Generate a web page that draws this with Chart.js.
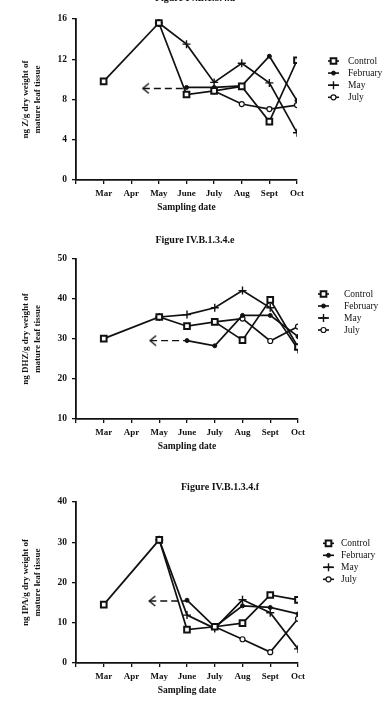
<!DOCTYPE html>
<html>
<head>
<meta charset="utf-8">
<script src="https://cdn.jsdelivr.net/npm/chart.js@4/dist/chart.umd.min.js"></script>
<style>
  html, body { margin: 0; padding: 0; background: #fff; width: 388px; height: 708px; overflow: hidden; }
  canvas { position: absolute; left: 0; }
</style>
</head>
<body>
<canvas id="chartD" width="388" height="240" style="top:-20px"></canvas>
<canvas id="chartE" width="388" height="240" style="top:220px"></canvas>
<canvas id="chartF" width="388" height="240" style="top:463px"></canvas>
<script>
// Sampling months (first slot is the empty start of the axis)
const months = ['', 'Mar', 'Apr', 'May', 'June', 'July', 'Aug', 'Sept', 'Oct'];

// Figure d - ng Z/g
const controlZ = [null, 9.8, null, 15.6, 8.5, 8.85, 9.3, 5.8, 11.9];
const febZ     = [null, null, null, null, 9.2, 9.2, 9.35, 12.3, 7.9];
const mayZ     = [null, null, null, 15.6, 13.5, 9.7, 11.6, 9.65, 4.7];
const julyZ    = [null, null, null, null, null, 8.85, 7.55, 7.05, 7.45];
const arrowZ   = [2.42, 4];   // dashed arrow, x from tip to June
const arrowZLevel = 9.1;
const ticksZ   = [0, 4, 8, 12, 16];

// Figure e - ng DHZ/g
const controlE = [null, 30.1, null, 35.5, 33.2, 34.3, 29.7, 39.8, 28.0];
const febE     = [null, null, null, null, 29.6, 28.3, 35.9, 35.9, 30.6];
const mayE     = [null, null, null, 35.5, 36.1, 37.8, 42.1, 37.8, 27.4];
const julyE    = [null, null, null, null, null, 34.3, 35.1, 29.5, 33.1];
const arrowE   = [2.67, 4];
const arrowELevel = 29.6;
const ticksE   = [10, 20, 30, 40, 50];

// Figure f - ng IPA/g
const controlF = [null, 14.5, null, 30.6, 8.3, 9.0, 9.9, 16.9, 15.7];
const febF     = [null, null, null, null, 15.6, 9.0, 14.2, 13.8, 12.2];
const mayF     = [null, null, null, 30.6, 11.9, 8.6, 15.7, 12.5, 3.5];
const julyF    = [null, null, null, null, null, 9.0, 5.9, 2.7, 11.0];
const arrowF   = [2.64, 4];
const arrowFLevel = 15.4;
const ticksF   = [0, 10, 20, 30, 40];

const serif = '"Liberation Serif", "Times New Roman", serif';
const ink = '#111';

// open "<" arrow head used as the point style at the arrow tip
const chevron = document.createElement('canvas');
chevron.width = 14; chevron.height = 12;
(function () {
  const c = chevron.getContext('2d');
  c.strokeStyle = ink; c.lineWidth = 1.4;
  c.beginPath(); c.moveTo(13, 1); c.lineTo(7, 6); c.lineTo(13, 11); c.stroke();
})();

const markers = {
  Control:  { pointStyle: 'rect',   pointRadius: 4,   pointBackgroundColor: '#fff', pointBorderColor: ink, pointBorderWidth: 2 },
  February: { pointStyle: 'circle', pointRadius: 2,   pointBackgroundColor: ink,    pointBorderColor: ink, pointBorderWidth: 1 },
  May:      { pointStyle: 'cross',  pointRadius: 4,   pointBackgroundColor: ink,    pointBorderColor: ink, pointBorderWidth: 1.4 },
  July:     { pointStyle: 'circle', pointRadius: 2.5, pointBackgroundColor: '#fff', pointBorderColor: ink, pointBorderWidth: 1.2 }
};

function series(label, values) {
  return Object.assign({
    label: label,
    data: values.map((v, i) => ({ x: i, y: v })).filter(p => p.y !== null),
    borderColor: ink,
    borderWidth: 1.7,
    fill: false,
    tension: 0
  }, markers[label]);
}

function arrow(xs, level) {
  return {
    data: xs.map(x => ({ x: x, y: level })),
    borderColor: ink,
    borderWidth: 1.4,
    borderDash: [7, 4],
    pointStyle: chevron,
    pointRadius: [6, 0],
    fill: false
  };
}

// figure caption
const figTitle = {
  id: 'figTitle',
  afterDraw(chart, args, opts) {
    const ctx = chart.ctx;
    ctx.save();
    ctx.fillStyle = ink;
    ctx.font = 'bold 10px ' + serif;
    ctx.textAlign = 'center';
    ctx.textBaseline = 'middle';
    ctx.fillText(opts.text, opts.x, opts.y);
    ctx.restore();
  }
};

// legend to the right of the plot
const sideLegend = {
  id: 'sideLegend',
  afterDraw(chart, args, opts) {
    const ctx = chart.ctx;
    let row = 0;
    chart.data.datasets.forEach(ds => {
      if (!ds.label) return;
      const y = opts.y + row * opts.gap;
      row++;
      ctx.save();
      ctx.strokeStyle = ink;
      ctx.lineWidth = 1.6;
      ctx.beginPath(); ctx.moveTo(opts.x, y); ctx.lineTo(opts.x + 11, y); ctx.stroke();
      ctx.fillStyle = ds.pointBackgroundColor;
      ctx.strokeStyle = ds.pointBorderColor;
      ctx.lineWidth = ds.pointBorderWidth;
      Chart.helpers.drawPoint(ctx, { pointStyle: ds.pointStyle, radius: ds.pointRadius, borderWidth: ds.pointBorderWidth, rotation: 0 }, opts.x + 5.5, y);
      ctx.fillStyle = ink;
      ctx.font = '9.5px ' + serif;
      ctx.textAlign = 'left';
      ctx.textBaseline = 'middle';
      ctx.fillText(ds.label, opts.textX, y);
      ctx.restore();
    });
  }
};

function makeChart(id, cfg) {
  const ctx = document.getElementById(id).getContext('2d');
  return new Chart(ctx, {
    type: 'line',
    data: { datasets: cfg.datasets },
    plugins: [figTitle, sideLegend],
    options: {
      responsive: false,
      animation: false,
      events: [],
      layout: { padding: { left: 0, top: cfg.top, right: 388 - cfg.right, bottom: 240 - cfg.bottom - 34 } },
      plugins: {
        legend: { display: false },
        tooltip: { enabled: false },
        figTitle: cfg.title,
        sideLegend: cfg.legend
      },
      scales: {
        x: {
          type: 'linear',
          min: 0, max: 8,
          afterFit: s => { s.height = 34; },
          afterBuildTicks: s => { s.ticks = months.map((m, i) => ({ value: i })); },
          ticks: {
            callback: v => months[v] || '',
            color: ink,
            font: { family: serif, size: 9, weight: 'bold' },
            padding: 4,
            maxRotation: 0,
            autoSkip: false
          },
          grid: { drawOnChartArea: false, drawTicks: true, tickLength: 4, color: ink, lineWidth: 1.3 },
          border: { color: ink, width: 1.8 },
          title: { display: true, text: 'Sampling date', color: ink, font: { family: serif, size: 9.5, weight: 'bold' }, padding: { top: 0, bottom: 1 } }
        },
        y: {
          min: cfg.ticks[0], max: cfg.ticks[cfg.ticks.length - 1],
          afterFit: s => { s.width = 76; },
          afterBuildTicks: s => { s.ticks = cfg.ticks.map(v => ({ value: v })); },
          ticks: { color: ink, font: { family: serif, size: 9.5, weight: 'bold' }, padding: 5 },
          grid: { drawOnChartArea: false, drawTicks: true, tickLength: 4, color: ink, lineWidth: 1.3 },
          border: { color: ink, width: 1.8 },
          title: { display: true, text: cfg.yTitle, color: ink, font: { family: serif, size: 9, weight: 'bold', lineHeight: 1.42 }, padding: { top: 19, bottom: 0 } }
        }
      }
    }
  });
}

makeChart('chartD', {
  datasets: [series('Control', controlZ), series('February', febZ), series('May', mayZ), series('July', julyZ), arrow(arrowZ, arrowZLevel)],
  ticks: ticksZ,
  yTitle: ['ng Z/g dry weight of', 'mature leaf tissue'],
  top: 39, bottom: 200, right: 297,
  title: { text: 'Figure IV.B.1.3.4.d', x: 195, y: 18 },
  legend: { x: 328, textX: 348, y: 81, gap: 12.1 }
});

makeChart('chartE', {
  datasets: [series('Control', controlE), series('February', febE), series('May', mayE), series('July', julyE), arrow(arrowE, arrowELevel)],
  ticks: ticksE,
  yTitle: ['ng DHZ/g dry weight of', 'mature leaf tissue'],
  top: 39, bottom: 199, right: 298,
  title: { text: 'Figure IV.B.1.3.4.e', x: 195, y: 20 },
  legend: { x: 318, textX: 344, y: 74, gap: 12 },
});

makeChart('chartF', {
  datasets: [series('Control', controlF), series('February', febF), series('May', mayF), series('July', julyF), arrow(arrowF, arrowFLevel)],
  ticks: ticksF,
  yTitle: ['ng IPA/g dry weight of', 'mature leaf tissue'],
  top: 39, bottom: 200, right: 298,
  title: { text: 'Figure IV.B.1.3.4.f', x: 220, y: 24.7 },
  legend: { x: 323, textX: 341, y: 80.3, gap: 12 }
});
</script>
</body>
</html>
